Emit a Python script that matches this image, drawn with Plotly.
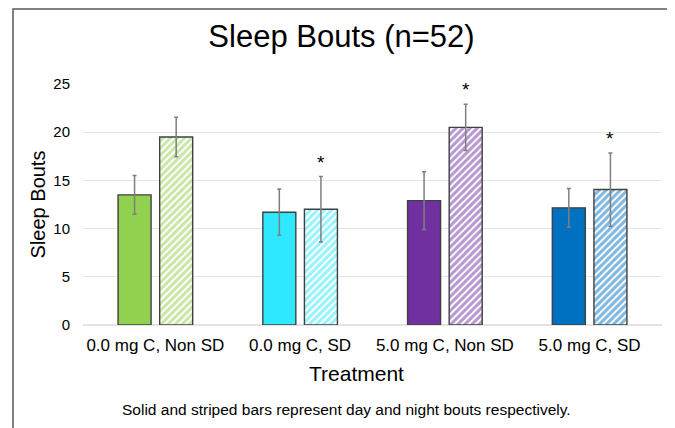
import plotly.graph_objects as go

categories = ["0.0 mg C, Non SD", "0.0 mg C, SD", "5.0 mg C, Non SD", "5.0 mg C, SD"]
day_values = [13.5, 11.7, 12.9, 12.15]
day_errors = [2.0, 2.4, 3.0, 2.0]
night_values = [19.5, 12.0, 20.5, 14.05]
night_errors = [2.05, 3.4, 2.4, 3.8]
night_significant = [False, True, True, True]
colors = ["#92D050", "#2EE8FF", "#7030A0", "#0070C0"]
y_ticks = [0, 5, 10, 15, 20, 25]

FONT = "Liberation Sans, Arial, sans-serif"
OFF = 8  # page body margin
W, H = 675 - OFF, 428 - OFF
# plot area in page pixels: x 83..662, y 84..325
L, R, T, B = 83 - OFF, 675 - 662, 84 - OFF, 428 - 325
plot_w = W - L - R
plot_h = H - T - B


def px(xp):
    return (xp - 83) / plot_w


def py(yp):
    return (325 - yp) / plot_h


fig = go.Figure()
fig.add_trace(go.Bar(
    x=categories, y=day_values, name="Day",
    marker=dict(color=colors, line=dict(color="#404040", width=1.4)),
    error_y=dict(type="data", array=day_errors, color="#7F7F7F", thickness=1.5, width=2),
))
fig.add_trace(go.Bar(
    x=categories, y=night_values, name="Night",
    marker=dict(color="white", line=dict(color="#404040", width=1.4),
                pattern=dict(shape="/", fillmode="overlay", fgcolor=colors,
                             size=5, solidity=0.6)),
    error_y=dict(type="data", array=night_errors, color="#7F7F7F", thickness=1.5, width=2),
))

slot_offset = (1 - 0.425) * plot_w / len(categories) / 4
for cat, v, e, sig in zip(categories, night_values, night_errors, night_significant):
    if sig:
        fig.add_annotation(x=cat, y=v + e, xref="x", yref="y", text="*", showarrow=False,
                           xshift=slot_offset, yanchor="bottom", yshift=2,
                           font=dict(family=FONT, size=19, color="#000000"))

fig.add_annotation(x=px(356), y=py(373), xref="paper", yref="paper",
                   text="Treatment", showarrow=False, xanchor="center", yanchor="middle",
                   font=dict(family=FONT, size=21, color="#000000"))
fig.add_annotation(x=px(346.5), y=py(409), xref="paper", yref="paper",
                   text="Solid and striped bars represent day and night bouts respectively.",
                   showarrow=False, xanchor="center", yanchor="middle",
                   font=dict(family=FONT, size=15.5, color="#000000"))

fig.add_shape(type="rect", xref="paper", yref="paper",
              x0=px(13), x1=px(671), y0=py(445), y1=py(9),
              line=dict(color="#595959", width=1.5), fillcolor="rgba(0,0,0,0)", layer="above")

fig.update_layout(
    width=W, height=H,
    margin=dict(l=L, r=R, t=T, b=B, autoexpand=False),
    paper_bgcolor="white", plot_bgcolor="white",
    barmode="group", bargap=0.425, bargroupgap=0.207,
    showlegend=False,
    title=dict(text="Sleep Bouts (n=52)", x=(341.5 - OFF) / W, xref="container", xanchor="center",
               y=1 - (36 - OFF) / H, yanchor="middle", yref="container", automargin=False,
               font=dict(family=FONT, size=31, color="#000000")),
    xaxis=dict(showgrid=False, showline=False, ticks="", ticklabelstandoff=8, automargin=False,
               tickfont=dict(family=FONT, size=17, color="#000000")),
    yaxis=dict(range=[0, 25], tickvals=y_ticks, showgrid=True, gridcolor="#E4E4E4", gridwidth=1,
               zeroline=True, zerolinecolor="#E4E4E4", zerolinewidth=1.5, showline=False,
               ticks="", ticklabelstandoff=12, automargin=False,
               tickfont=dict(family=FONT, size=15, color="#000000"),
               title=dict(text="Sleep Bouts", standoff=2,
                          font=dict(family=FONT, size=20, color="#000000"))),
    font=dict(family=FONT),
)

fig.write_html("out.html")
